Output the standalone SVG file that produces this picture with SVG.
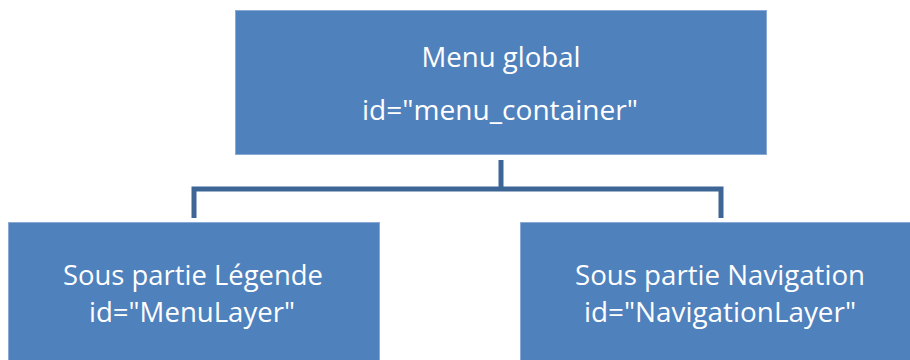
<svg xmlns="http://www.w3.org/2000/svg" width="910" height="360" viewBox="0 0 910 360">
  <style>
    .box { fill: #4F81BD; stroke: #8AA9D4; stroke-width: 1; }
    .lbl { fill: #FFFFFF; font-family: "Open Sans", "Noto Sans", "DejaVu Sans", sans-serif; font-size: 27px; text-anchor: middle; }
    .conn { fill: none; stroke: #3D6696; stroke-width: 5; stroke-linejoin: miter; }
  </style>
  <rect width="910" height="360" fill="#FFFFFF"/>
  <g id="connectors">
    <path class="conn" d="M501,160 V189"/>
    <path class="conn" d="M194,218 V189 H721 V218"/>
  </g>
  <g id="menu_global">
    <rect class="box" x="235.5" y="10.5" width="531" height="144"/>
    <text class="lbl" x="501" y="67" textLength="159" lengthAdjust="spacingAndGlyphs">Menu global</text>
    <text class="lbl" x="500" y="120" textLength="276" lengthAdjust="spacingAndGlyphs">id="menu_container"</text>
  </g>
  <g id="sous_partie_legende">
    <rect class="box" x="8.5" y="222.5" width="371" height="140"/>
    <text class="lbl" x="193" y="285" textLength="260" lengthAdjust="spacingAndGlyphs">Sous partie Légende</text>
    <text class="lbl" x="192" y="321.5" textLength="206" lengthAdjust="spacingAndGlyphs">id="MenuLayer"</text>
  </g>
  <g id="sous_partie_navigation">
    <rect class="box" x="520.5" y="222.5" width="400" height="140"/>
    <text class="lbl" x="720" y="285" textLength="290" lengthAdjust="spacingAndGlyphs">Sous partie Navigation</text>
    <text class="lbl" x="720" y="321.5" textLength="272" lengthAdjust="spacingAndGlyphs">id="NavigationLayer"</text>
  </g>
</svg>
